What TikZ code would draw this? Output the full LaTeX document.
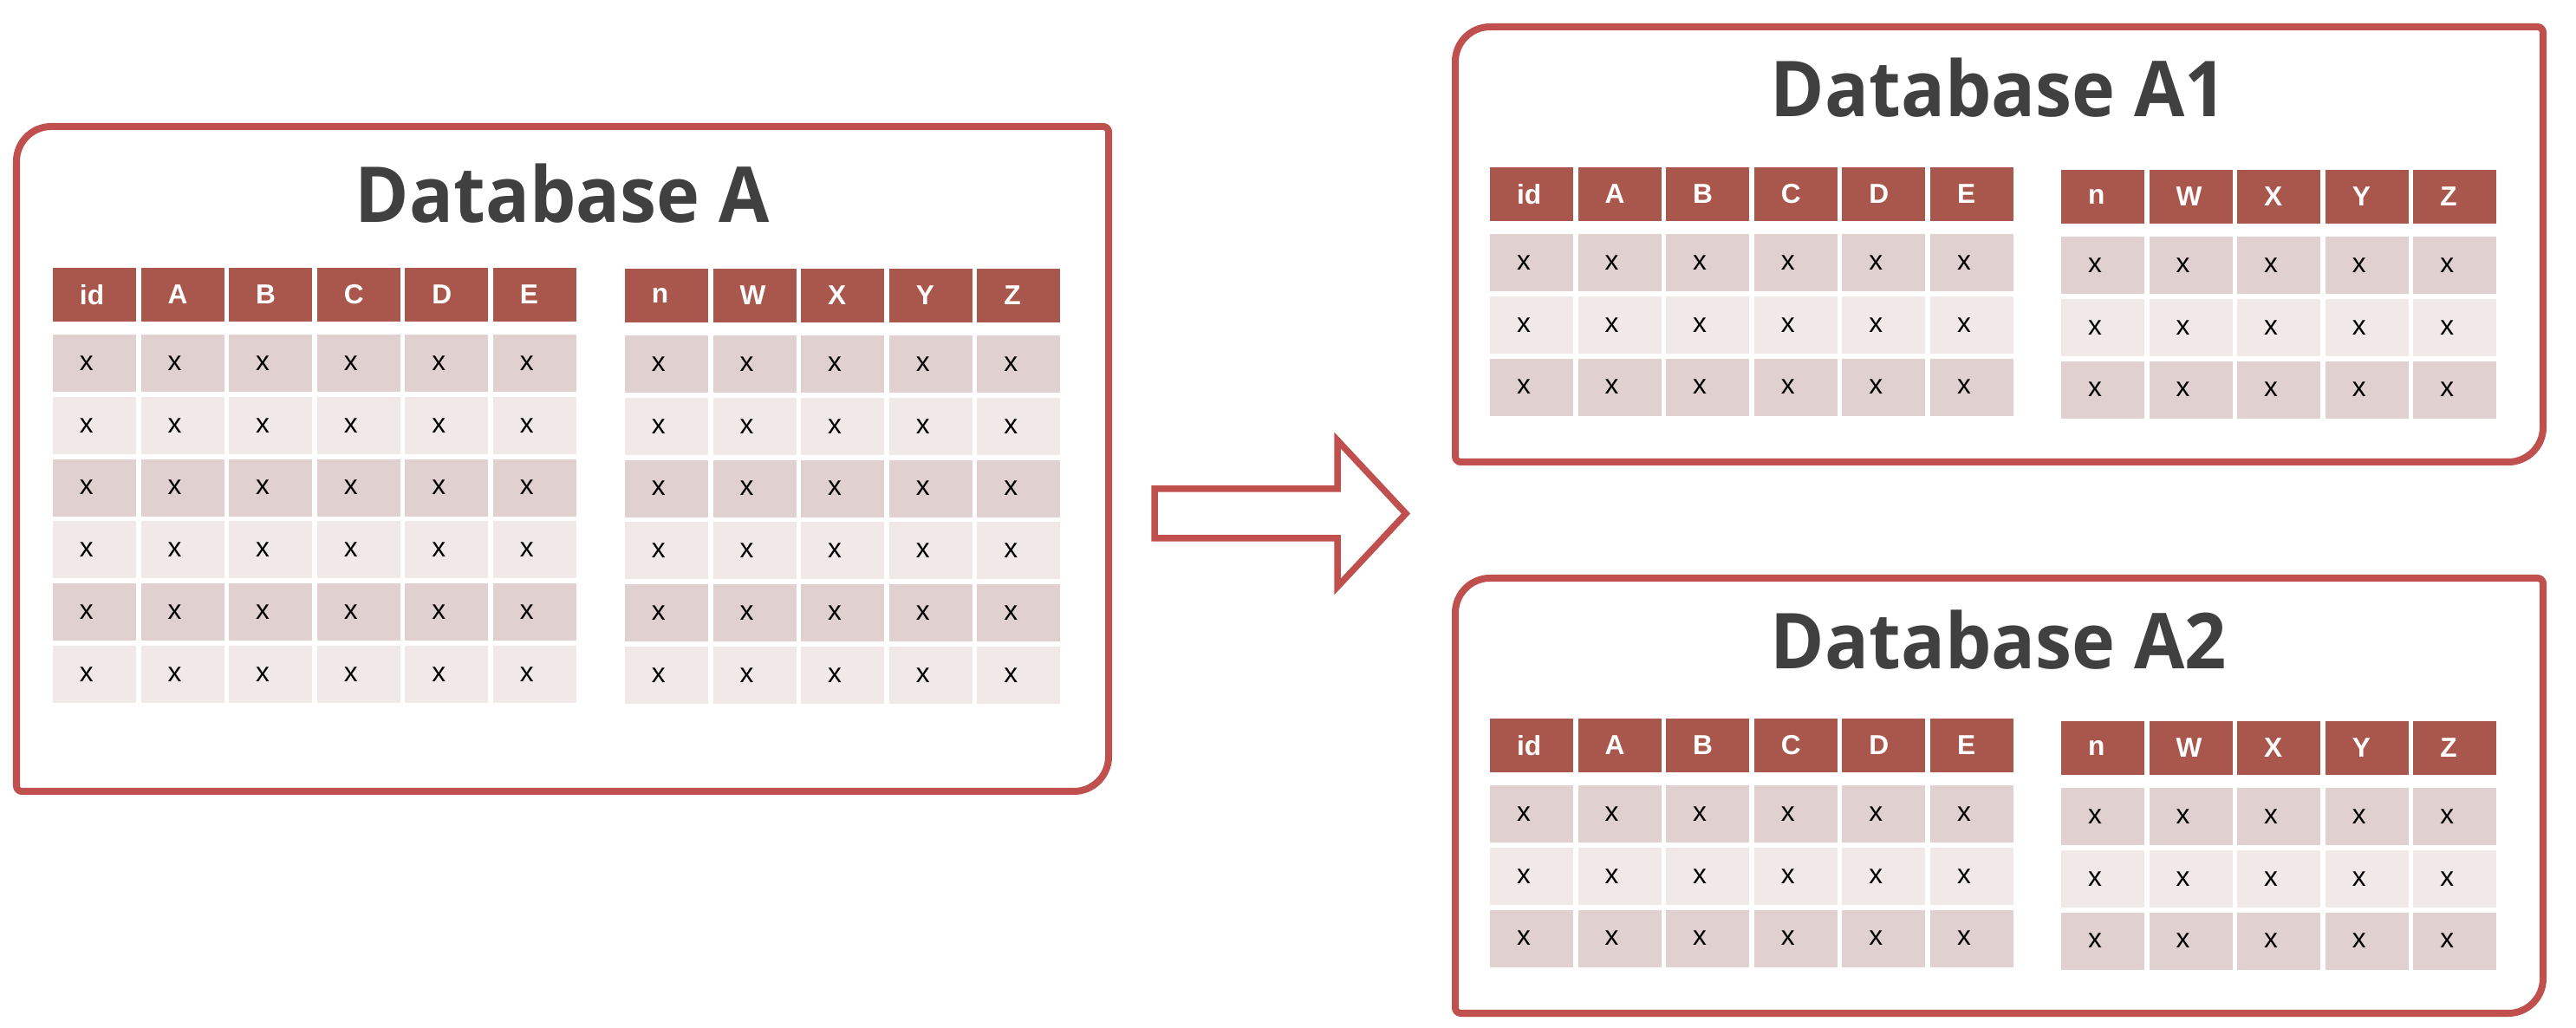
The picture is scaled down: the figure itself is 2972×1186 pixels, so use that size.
\documentclass[tikz,border=0pt]{standalone}
\usepackage{fontspec}
\setmainfont{Liberation Sans}
\newfontfamily\titlefont[FakeStretch=0.95]{Open Sans}
\definecolor{boxred}{RGB}{192,80,77}
\definecolor{headred}{RGB}{169,87,76}
\definecolor{rowdark}{RGB}{224,208,207}
\definecolor{rowlight}{RGB}{240,233,232}
\definecolor{titlegray}{RGB}{64,64,64}
\tikzset{
  cellbase/.style={inner ysep=0pt, inner xsep=0.31cm, text width=0.34cm, align=left,
    minimum width=0.96cm},
  hcell/.style={cellbase, fill=headred, text=white, minimum height=0.62cm,
    font=\fontsize{9}{10}\selectfont\bfseries},
  dcell/.style={cellbase, text=black, minimum height=0.66cm,
    font=\fontsize{9}{10}\selectfont},
  boxline/.style={draw=boxred, line width=0.08cm, line join=round},
  arrowline/.style={draw=boxred, line width=0.075cm, line join=miter, fill=white},
  dbtitle/.style={font=\titlefont\fontsize{25.3}{30}\selectfont\bfseries,
    text=titlegray, anchor=base, inner sep=0pt},
}
% #1 name, #2 x0, #3 y0, #4 headers, #5 rows
\newcommand\dbtable[5]{%
  \foreach \h [count=\c from 0] in {#4} {
    \pgfmathsetmacro\cx{#2+\c*101.6+48}
    \node[hcell] (#1-h\c) at (\cx,{#3+31}) {\h};
    \foreach \r in {1,...,#5} {
      \ifodd\r\relax \def\rc{rowdark}\else \def\rc{rowlight}\fi
      \pgfmathsetmacro\cy{#3+77+71.8*(\r-1)+33}
      \node[dcell, fill=\rc] (#1-\r-\c) at (\cx,\cy) {x};
    }
  }
}
% #1 L, #2 T, #3 R, #4 B
\newcommand\dbbox[4]{%
  \draw[boxline] (#1,{#2+40}) .. controls (#1,{#2+18}) and ({#1+18},#2) .. ({#1+40},#2)
    -- ({#3-6},#2) .. controls ({#3-3},#2) and (#3,{#2+3}) .. (#3,{#2+6})
    -- (#3,{#4-40}) .. controls (#3,{#4-18}) and ({#3-18},#4) .. ({#3-40},#4)
    -- ({#1+6},#4) .. controls ({#1+3},#4) and (#1,{#4-3}) .. (#1,{#4-6}) -- cycle;}
\begin{document}
\begin{tikzpicture}[x=0.01cm, y=-0.01cm]
\useasboundingbox (0,0) rectangle (2972,1186);
\fill[white] (0,0) rectangle (2972,1186);

% Database A
\dbbox{19}{146}{1279}{913}
\node[dbtitle] (tA) at (649,257) {Database A};
\dbtable{AL}{61}{309}{id,A,B,C,D,E}{6}
\dbtable{AR}{721}{310}{n,W,X,Y,Z}{6}

% arrow
\draw[arrowline] (1332,564) -- (1543,564) -- (1543,508) -- (1622,592.5)
  -- (1543,677) -- (1543,621) -- (1332,621) -- cycle;

% Database A1
\dbbox{1679}{31}{2934}{533}
\node[dbtitle] (tA1) at (2306,135) {Database A1};
\dbtable{BL}{1719}{193}{id,A,B,C,D,E}{3}
\dbtable{BR}{2378}{196}{n,W,X,Y,Z}{3}

% Database A2
\dbbox{1679}{667}{2934}{1169}
\node[dbtitle] (tA2) at (2306,772) {Database A2};
\dbtable{CL}{1719}{829}{id,A,B,C,D,E}{3}
\dbtable{CR}{2378}{832}{n,W,X,Y,Z}{3}
\end{tikzpicture}
\end{document}
